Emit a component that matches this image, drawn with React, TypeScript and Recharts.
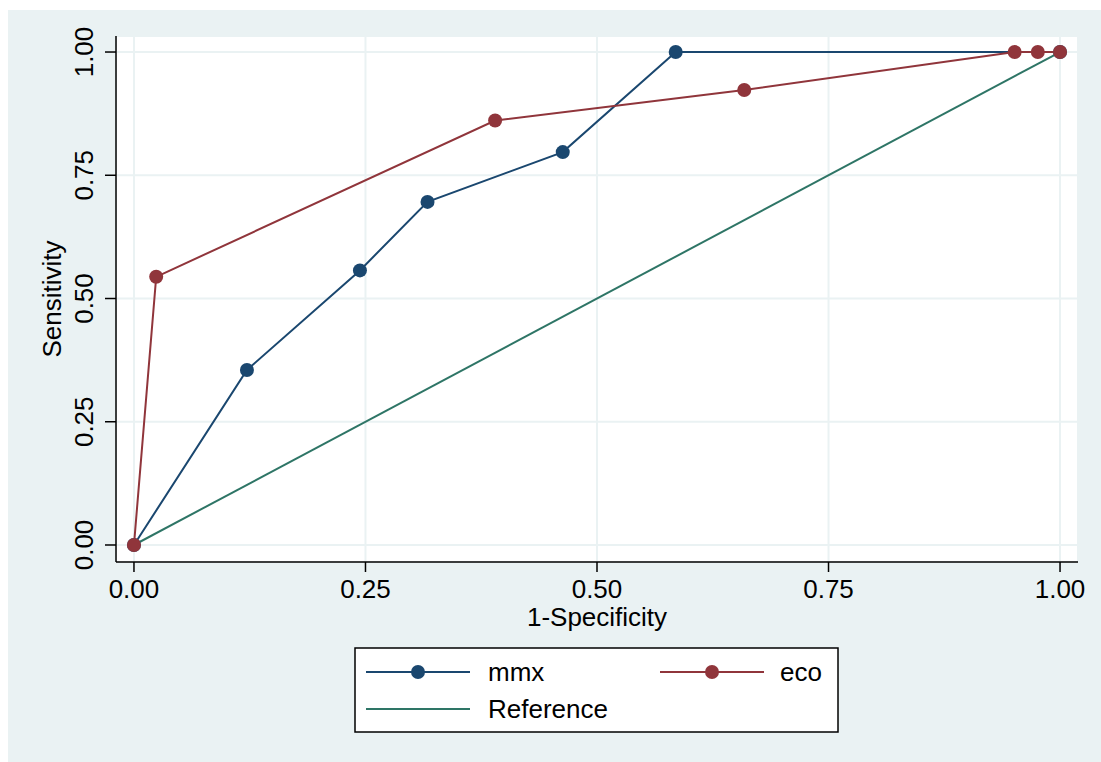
import { LineChart, Line, XAxis, YAxis, CartesianGrid, Legend } from 'recharts'

// ROC curve points (1-specificity, sensitivity)
const mmxX = [0, 0.122, 0.244, 0.317, 0.463, 0.585, 1]
const mmxY = [0, 0.355, 0.557, 0.696, 0.797, 1, 1]
const ecoX = [0, 0.024, 0.39, 0.659, 0.951, 0.976, 1]
const ecoY = [0, 0.544, 0.861, 0.923, 1, 1, 1]
const refX = [0, 1]
const refY = [0, 1]

const ticks = [0, 0.25, 0.5, 0.75, 1]
const tickLabels = ['0.00', '0.25', '0.50', '0.75', '1.00']
const legendOrder = ['mmx', 'eco', 'Reference']

const NAVY = '#1a476f'
const MAROON = '#90353b'
const TEAL = '#2e7566'
const BG = '#eaf2f3'
const FONT = '"Liberation Sans", Arial, Helvetica, sans-serif'

const toPoints = (xs: number[], ys: number[]) => xs.map((x, i) => ({ x, y: ys[i] }))

const mmx = toPoints(mmxX, mmxY)
const eco = toPoints(ecoX, ecoY)
const reference = toPoints(refX, refY)

const fmt = (v: number) => tickLabels[ticks.indexOf(v)] ?? v.toFixed(2)

function YTick(props: any) {
  const { y, payload } = props
  const x = 93
  return (
    <text
      x={x}
      y={y}
      transform={`rotate(-90 ${x} ${y})`}
      textAnchor="middle"
      fontSize={26}
      fontFamily={FONT}
      fill="#000"
    >
      {fmt(payload.value)}
    </text>
  )
}

function LegendBox(props: any) {
  const payload: any[] = [...(props.payload || [])].sort(
    (a, b) => legendOrder.indexOf(a.value) - legendOrder.indexOf(b.value)
  )
  // grid slots inside the legend frame
  const slots = [
    { lx: 12, tx: 134, ty: 25 },
    { lx: 306, tx: 426, ty: 25 },
    { lx: 12, tx: 134, ty: 62 },
  ]
  return (
    <svg width={485} height={86} style={{ display: 'block' }}>
      <rect x={1} y={1} width={483} height={84} fill="#fff" stroke="#000" strokeWidth={1.5} />
      {payload.map((entry, i) => {
        const s = slots[i]
        if (!s) return null
        const hasDot = entry.value !== 'Reference'
        return (
          <g key={entry.value}>
            <line x1={s.lx} x2={s.lx + 104} y1={s.ty} y2={s.ty} stroke={entry.color} strokeWidth={2} />
            {hasDot && <circle cx={s.lx + 52} cy={s.ty} r={7} fill={entry.color} />}
            <text x={s.tx} y={s.ty} dy="0.36em" fontSize={26} fontFamily={FONT} fill="#000">
              {entry.value}
            </text>
          </g>
        )
      })}
    </svg>
  )
}

export default function App() {
  return (
    <div style={{ position: 'absolute', left: 0, top: 0, width: 1101, height: 762, background: '#fff' }}>
      <div style={{ position: 'absolute', left: 8, top: 10, width: 1093, height: 752, background: BG }} />
      <div style={{ position: 'absolute', left: 0, top: 0 }}>
        <LineChart
          width={1101}
          height={762}
          margin={{ top: 36, right: 23, left: 0, bottom: 160 }}
          style={{ fontFamily: FONT }}
        >
          <CartesianGrid stroke={BG} strokeWidth={2} fill="#fff" />
          <XAxis
            type="number"
            dataKey="x"
            domain={[-0.0194, 1.0194]}
            ticks={ticks}
            tickFormatter={fmt}
            allowDataOverflow
            height={40}
            tickSize={10}
            tickMargin={8}
            axisLine={{ stroke: '#000', strokeWidth: 1.5 }}
            tickLine={{ stroke: '#000', strokeWidth: 1.5 }}
            tick={{ fontSize: 26, fill: '#000', fontFamily: FONT }}
            label={{ value: '1-Specificity', position: 'bottom', offset: 6, fontSize: 26, fill: '#000', fontFamily: FONT }}
          />
          <YAxis
            type="number"
            dataKey="y"
            domain={[-0.0345, 1.0325]}
            ticks={ticks}
            allowDataOverflow
            width={116}
            tickSize={11}
            axisLine={{ stroke: '#000', strokeWidth: 1.5 }}
            tickLine={{ stroke: '#000', strokeWidth: 1.5 }}
            tick={<YTick />}
            label={{
              content: (p: any) => {
                const vb = p.viewBox || { y: 36, height: 526 }
                const cy = vb.y + vb.height / 2
                return (
                  <text
                    x={61}
                    y={cy}
                    transform={`rotate(-90 61 ${cy})`}
                    textAnchor="middle"
                    fontSize={26}
                    fontFamily={FONT}
                    fill="#000"
                  >
                    Sensitivity
                  </text>
                )
              },
            }}
          />
          <Legend
            verticalAlign="middle"
            align="center"
            content={<LegendBox />}
            wrapperStyle={{ left: 354, top: 647, width: 485, height: 86 }}
          />
          <Line
            data={mmx}
            dataKey="y"
            name="mmx"
            type="linear"
            stroke={NAVY}
            strokeWidth={2}
            dot={{ r: 7, fill: NAVY, stroke: 'none' }}
            activeDot={false}
            isAnimationActive={false}
          />
          <Line
            data={eco}
            dataKey="y"
            name="eco"
            type="linear"
            stroke={MAROON}
            strokeWidth={2}
            dot={{ r: 7, fill: MAROON, stroke: 'none' }}
            activeDot={false}
            isAnimationActive={false}
          />
          <Line
            data={reference}
            dataKey="y"
            name="Reference"
            type="linear"
            stroke={TEAL}
            strokeWidth={2}
            dot={false}
            activeDot={false}
            isAnimationActive={false}
          />
        </LineChart>
      </div>
    </div>
  )
}
